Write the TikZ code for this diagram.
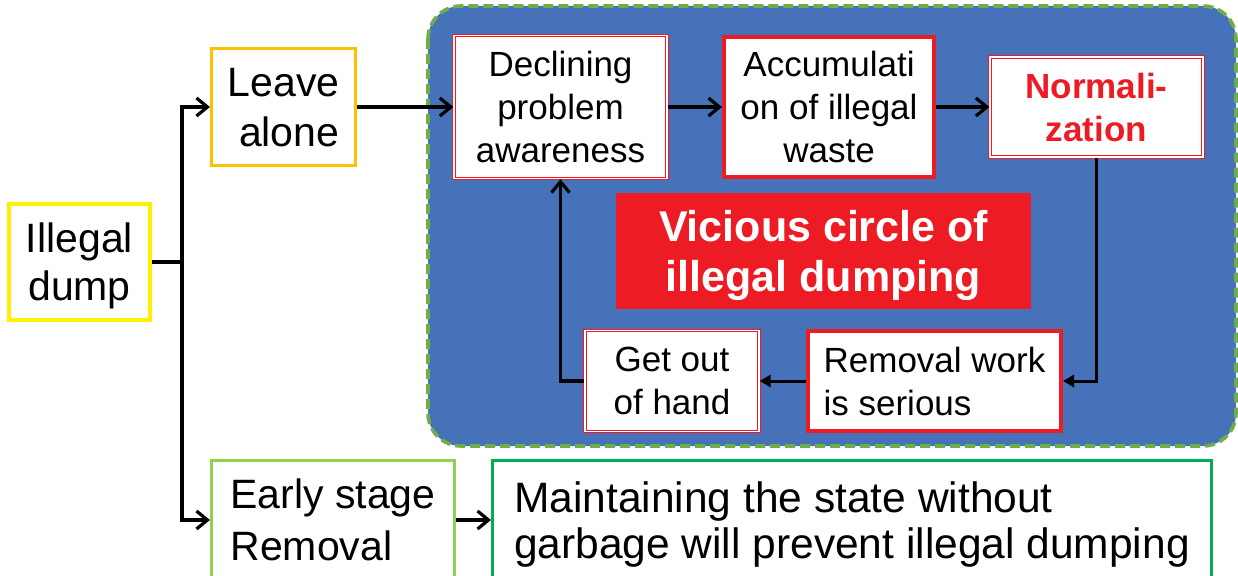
\documentclass[tikz,border=0pt]{standalone}
\usepackage{fontspec}
\setmainfont{Liberation Sans}
\usetikzlibrary{arrows.meta}

\definecolor{regionblue}{HTML}{4672BA}
\definecolor{dashgreen}{HTML}{70AD47}
\definecolor{alertred}{HTML}{ED1C24}
\definecolor{dumpyellow}{HTML}{FFF000}
\definecolor{leaveorange}{HTML}{FFC000}
\definecolor{earlygreen}{HTML}{92D050}
\definecolor{keepgreen}{HTML}{00B050}

\tikzset{
  box/.style={rectangle, fill=white, inner sep=0pt, text depth=0pt},
  outerbox/.style={box, line width=3pt, font=\fontsize{41pt}{50pt}\selectfont},
  innerbox/.style={box, font=\fontsize{35pt}{43pt}\selectfont},
  thinred/.style={innerbox, draw=alertred, double=white, double distance=1.5pt, line width=1.2pt},
  thickred/.style={innerbox, draw=alertred, line width=4pt},
  link/.style={line width=3.2pt},
  flow/.style={link, -{Straight Barb[length=11pt,width=18pt]}},
  flowtri/.style={line width=3pt, -{Triangle[length=11pt,width=12pt]}},
}

\begin{document}
\begin{tikzpicture}[x=1pt, y=-1pt]
  \useasboundingbox (0,0) rectangle (1238,575);
  \clip (0,0) rectangle (1238,575);
  \fill[white] (0,0) rectangle (1238,575);

  % shaded region holding the vicious circle
  \draw[fill=regionblue, draw=dashgreen, line width=3.6pt,
        dash pattern=on 10pt off 5pt, rounded corners=33pt]
        (428,6) rectangle (1236,446);

  % left-hand column
  \node[outerbox, draw=dumpyellow, line width=4pt, minimum width=141pt,
        minimum height=116pt, align=center,
        font=\fontsize{41pt}{48pt}\selectfont] (illegal) at (79.5,262) {Illegal\\dump};
  \node[outerbox, draw=leaveorange, minimum width=144pt, minimum height=117pt,
        align=right] (leave) at (283.5,107) {Leave\\alone};
  \node[outerbox, draw=earlygreen, minimum width=243pt, minimum height=120pt,
        align=left, font=\fontsize{41pt}{52pt}\selectfont] (early) at (333,520)
        {Early stage\\Removal};
  \node[outerbox, draw=keepgreen, minimum width=719pt, minimum height=120pt,
        align=left, font=\fontsize{42.5pt}{46pt}\selectfont] (maint) at (852,520)
        {Maintaining the state without\\garbage will prevent illegal dumping};

  % the vicious circle
  \node[thinred, minimum width=213pt, minimum height=143pt, align=center]
        (declining) at (560.5,107) {Declining\\problem\\awareness};
  \node[thickred, minimum width=210pt, minimum height=139pt, align=center]
        (accum) at (829,107) {Accumulati\\on of illegal\\waste};
  \node[thinred, minimum width=213pt, minimum height=100pt, align=center,
        text=alertred, font=\fontsize{35pt}{43pt}\selectfont\bfseries]
        (norm) at (1096.5,107) {Normali-\\zation};
  \node[thickred, minimum width=253pt, minimum height=100pt, align=left]
        (removal) at (934.5,381) {Removal work\\is serious};
  \node[thinred, minimum width=174pt, minimum height=101pt, align=center]
        (getout) at (672,381) {Get out\\of hand};
  \node[box, fill=alertred, minimum width=415pt, minimum height=116pt,
        align=center, text=white, font=\fontsize{43pt}{50pt}\selectfont\bfseries]
        (vicious) at (823.5,251) {Vicious circle of\\illegal dumping};

  % connectors
  \coordinate (fork) at (182,262);
  \draw[link] (illegal.east) -- (fork);
  \draw[flow] (fork) |- (leave.west);
  \draw[flow] (fork) |- (early.west);
  \draw[flow] (leave.east) -- (declining.west);
  \draw[flow] (declining.east) -- (accum.west);
  \draw[flow] (accum.east) -- (norm.west);
  \draw[flowtri] (norm.south) |- (removal.east);
  \draw[flowtri] (removal.west) -- (getout.east);
  \draw[flow] (getout.west) -| (declining.south);
  \draw[flow] (early.east) -- (maint.west);
\end{tikzpicture}
\end{document}
